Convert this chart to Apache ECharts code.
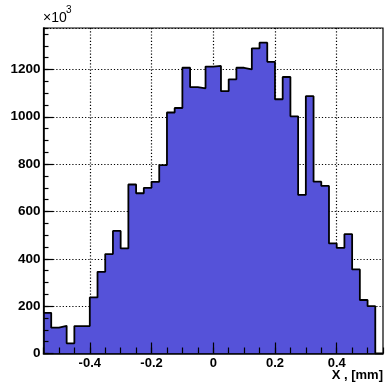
<!DOCTYPE html>
<html><head><meta charset="utf-8">
<script src="https://cdn.jsdelivr.net/npm/echarts@6/dist/echarts.min.js"></script>
<style>html,body{margin:0;padding:0;background:#fff}#c{width:385px;height:387px}</style>
</head><body><div id="c"></div>
<script>
// ---- data ----
const binStart = -0.55;
const binWidth = 0.025;
const counts = [172,109,117,43,116,116,237,345,420,518,444,714,677,700,725,796,1018,1037,1207,1125,1120,1212,1215,1108,1158,1207,1200,1289,1313,1232,1074,1168,1002,670,1087,726,708,465,446,504,355,226,200,0];
const xTickLabels = [-0.4,-0.2,0,0.2,0.4];
const yTickLabels = [0,200,400,600,800,1000,1200];
const xRange = [-0.55, 0.55];
const yRange = [0, 1375];
const xTitle = 'X , [mm]';
const yMultiplier = '×10';
const yExponent = '3';

// ---- build ----
const stepData = counts.map((v, i) => [+(binStart + i * binWidth).toFixed(4), v]);
stepData.push([+(binStart + counts.length * binWidth).toFixed(4), 0]);

const FONT = "'Liberation Sans', Arial, sans-serif";
const black = '#000';

const chart = echarts.init(document.getElementById('c'), null, {renderer: 'canvas'});
const option = {
  animation: false,
  backgroundColor: '#fff',
  grid: {left: 43.5, right: 2, top: 28, bottom: 33.5, show: true, borderColor: black, borderWidth: 1.2,
         backgroundColor: '#fff', containLabel: false, outerBoundsMode: 'none'},
  xAxis: [
    {type: 'value', min: xRange[0], max: xRange[1], interval: 0.05, position: 'bottom', z: 10,
     axisLine: {show: true, onZero: false, lineStyle: {color: black, width: 1.6}},
     axisTick: {show: true, inside: true, length: 6, lineStyle: {color: black, width: 1.2}},
     axisLabel: {show: false}, splitLine: {show: false}},
    {type: 'value', min: xRange[0], max: xRange[1], position: 'bottom', z: 10,
     axisLine: {show: false, onZero: false},
     axisTick: {show: true, inside: true, length: 11, customValues: xTickLabels, lineStyle: {color: black, width: 1.2}},
     axisLabel: {show: true, customValues: xTickLabels, margin: 3, color: black, fontFamily: FONT, fontWeight: 'bold', fontSize: 13,
                 formatter: v => String(+v.toFixed(2))},
     splitLine: {show: false}},
    {type: 'value', min: xRange[0], max: xRange[1], position: 'bottom', z: 0,
     axisLine: {show: false, onZero: false},
     axisTick: {show: false, customValues: xTickLabels},
     axisLabel: {show: false},
     splitLine: {show: true, customValues: xTickLabels, lineStyle: {color: black, width: 1.2, type: [1.2, 2]}}}
  ],
  yAxis: [
    {type: 'value', min: yRange[0], max: yRange[1], interval: 200, position: 'left', z: 10,
     axisLine: {show: true, onZero: false, lineStyle: {color: black, width: 1.6}},
     axisTick: {show: true, inside: true, length: 10, lineStyle: {color: black, width: 1.2}},
     axisLabel: {show: true, margin: 3, color: black, fontFamily: FONT, fontWeight: 'bold', fontSize: 13.5,
                 showMaxLabel: false, formatter: v => (yTickLabels.indexOf(v) >= 0 ? String(v) : '')},
     splitLine: {show: false}},
    {type: 'value', min: yRange[0], max: yRange[1], interval: 50, position: 'left', z: 10,
     axisLine: {show: false, onZero: false},
     axisTick: {show: true, inside: true, length: 5, lineStyle: {color: black, width: 1.2}},
     axisLabel: {show: false}, splitLine: {show: false}},
    {type: 'value', min: yRange[0], max: yRange[1], interval: 200, position: 'left', z: 0,
     axisLine: {show: false, onZero: false}, axisTick: {show: false}, axisLabel: {show: false},
     splitLine: {show: true, lineStyle: {color: black, width: 1.2, type: [1.2, 2]}}}
  ],
  series: [{
    type: 'line', xAxisIndex: 0, yAxisIndex: 0, step: 'end', symbol: 'none', showSymbol: false,
    data: stepData, z: 2,
    lineStyle: {color: black, width: 1.8},
    areaStyle: {color: '#5552d9', opacity: 1}
  }],
  graphic: [
    {type: 'text', left: 43, top: 11, z: 20,
     style: {text: yMultiplier, fill: black, font: `14px ${FONT}`}},
    {type: 'text', left: 66, top: 5, z: 20,
     style: {text: yExponent, fill: black, font: `10px ${FONT}`}},
    {type: 'text', right: 2, top: 369, z: 20,
     style: {text: xTitle, fill: black, font: `bold 13px ${FONT}`}}
  ]
};
chart.setOption(option);
</script>
</body></html>
